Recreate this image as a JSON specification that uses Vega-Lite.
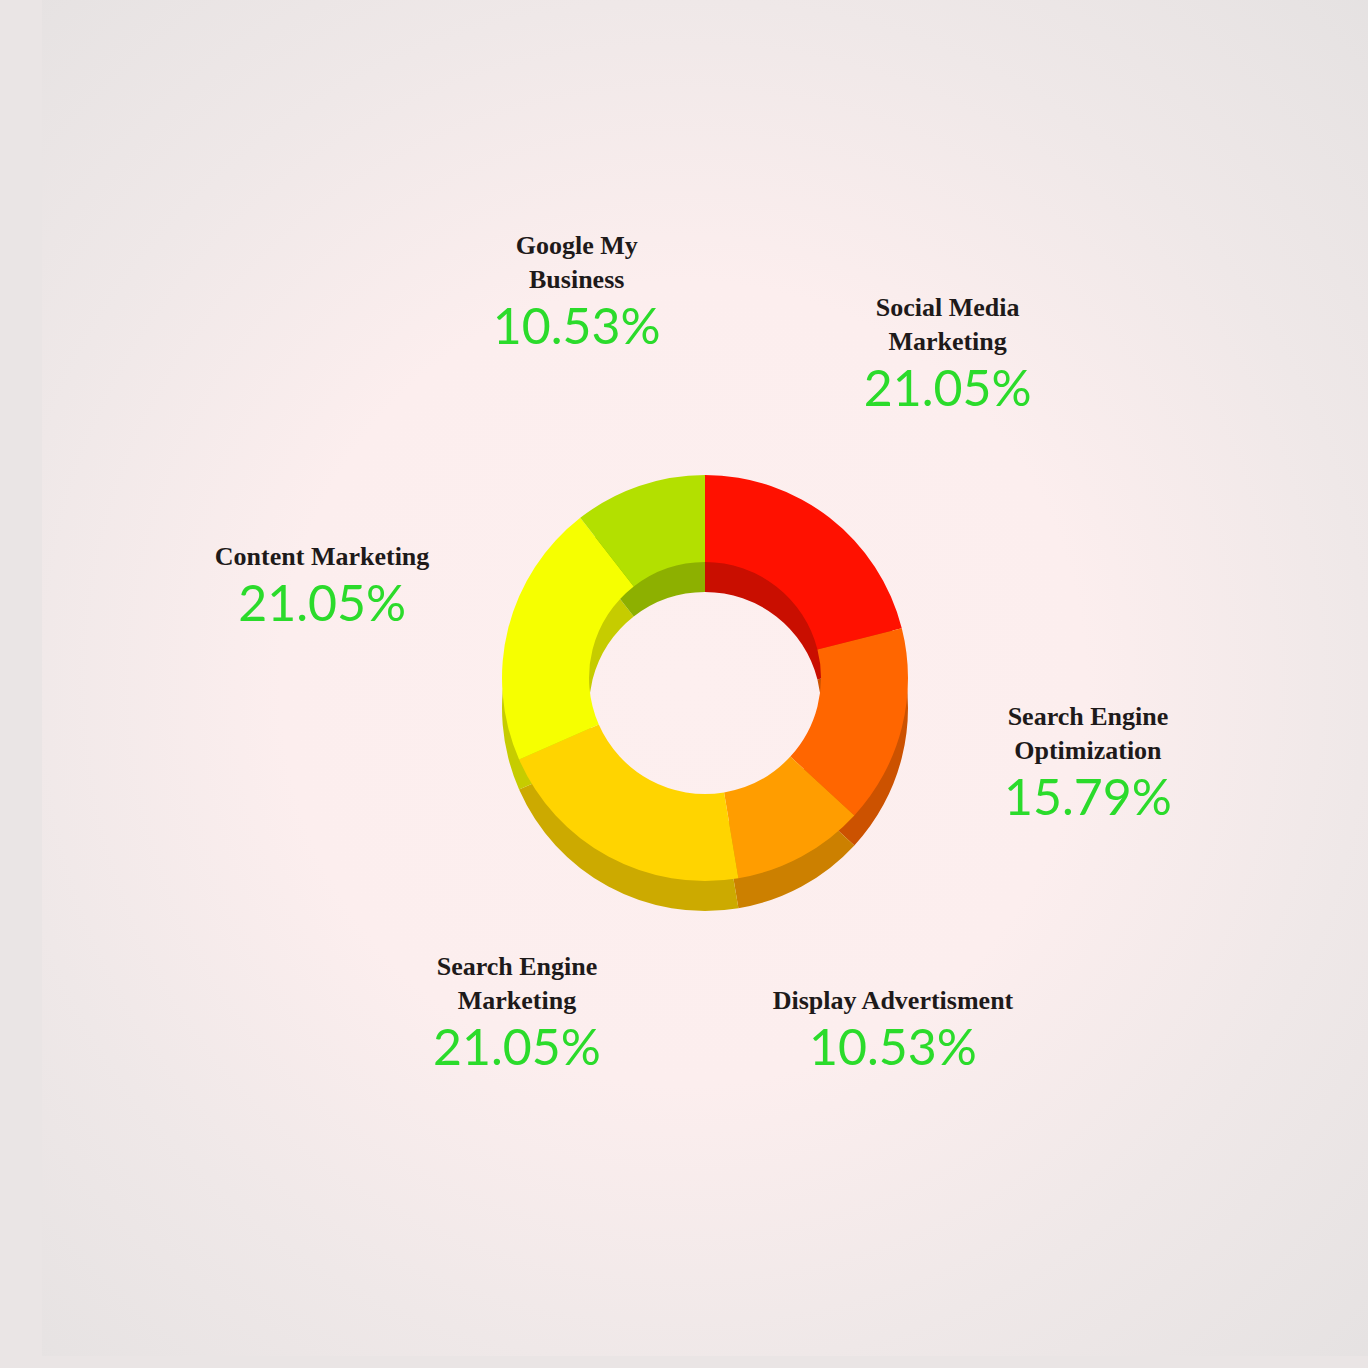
{
  "$schema": "https://vega.github.io/schema/vega-lite/v6.json",
  "width": 1368,
  "height": 1368,
  "autosize": {"type": "fit", "contains": "padding"},
  "padding": {"left": 42, "top": 0, "right": 0, "bottom": 12},
  "background": "#EAE5E5",
  "config": {"view": {"stroke": null}},
  "datasets": {
    "shares": [
      {"idx": 1, "segment": "Social Media Marketing", "name": ["Social Media", "Marketing"], "share": 0.2105, "top": "#FF1100", "side": "#C90E00"},
      {"idx": 2, "segment": "Search Engine Optimization", "name": ["Search Engine", "Optimization"], "share": 0.1579, "top": "#FF6600", "side": "#CC5200"},
      {"idx": 3, "segment": "Display Advertisment", "name": ["", "Display Advertisment"], "share": 0.1053, "top": "#FF9D00", "side": "#CC8000"},
      {"idx": 4, "segment": "Search Engine Marketing", "name": ["Search Engine", "Marketing"], "share": 0.2105, "top": "#FFD400", "side": "#CCAA00"},
      {"idx": 5, "segment": "Content Marketing", "name": ["", "Content Marketing"], "share": 0.2105, "top": "#F6FF00", "side": "#C6CC00"},
      {"idx": 6, "segment": "Google My Business", "name": ["Google My", "Business"], "share": 0.1053, "top": "#B3E000", "side": "#8DB000"}
    ],
    "backdrop": [{"panel": "background"}]
  },
  "layer": [
    {
      "data": {"name": "backdrop"},
      "mark": {
        "type": "rect",
        "fill": {
          "gradient": "radial",
          "x1": 0.484, "y1": 0.504, "r1": 0,
          "x2": 0.484, "y2": 0.504, "r2": 0.74,
          "stops": [
            {"offset": 0, "color": "#FDEFEF"},
            {"offset": 0.4, "color": "#FCEEEE"},
            {"offset": 0.68, "color": "#EFE8E8"},
            {"offset": 1, "color": "#E4E1E1"}
          ]
        }
      },
      "encoding": {
        "x": {"value": 0},
        "x2": {"value": "width"},
        "y": {"value": 0},
        "y2": {"value": "height"}
      }
    },
    {
      "data": {"name": "shares"},
      "encoding": {
        "theta": {"field": "share", "type": "quantitative", "stack": true},
        "order": {"field": "idx", "type": "quantitative"}
      },
      "layer": [
        {
          "mark": {"type": "arc", "outerRadius": 203, "innerRadius": 116, "yOffset": 30},
          "encoding": {
            "color": {"field": "side", "type": "nominal", "scale": null, "legend": null}
          }
        },
        {
          "mark": {"type": "arc", "outerRadius": 203, "innerRadius": 116},
          "encoding": {
            "color": {"field": "top", "type": "nominal", "scale": null, "legend": null}
          }
        },
        {
          "mark": {"type": "text", "radius": 395, "baseline": "alphabetic", "align": "center", "font": "Liberation Serif", "fontWeight": "bold", "fontSize": 26, "lineHeight": 34, "color": "#1E1A1A", "dy": -50},
          "encoding": {
            "text": {"field": "name"}
          }
        },
        {
          "mark": {"type": "text", "radius": 395, "baseline": "alphabetic", "align": "center", "font": "Lato", "fontWeight": 400, "fontSize": 50, "color": "#2BDB2B", "dy": 40},
          "encoding": {
            "text": {"field": "share", "type": "quantitative", "format": ".2%"}
          }
        }
      ]
    }
  ]
}
